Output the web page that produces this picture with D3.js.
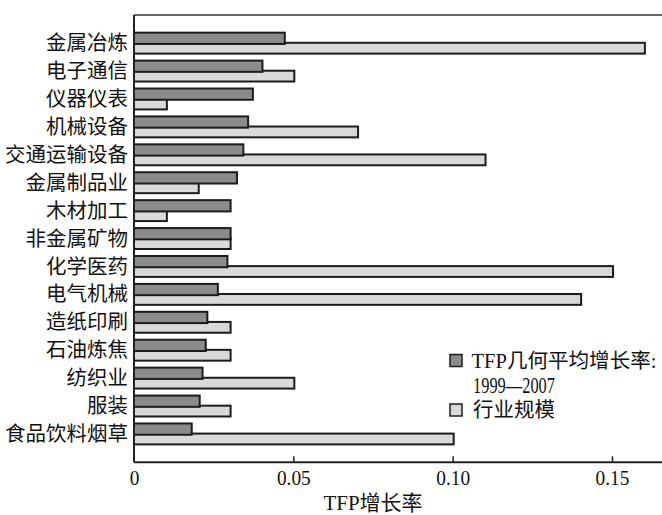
<!DOCTYPE html>
<html>
<head>
<meta charset="utf-8">
<script src="https://cdn.jsdelivr.net/npm/d3@7"></script>
<style>
  html, body { margin: 0; padding: 0; background: #fff; }
  svg { display: block; }
  text { font-family: "Liberation Serif", "Noto Sans CJK SC", serif; fill: #111; }
</style>
</head>
<body>
<svg id="chart" width="662" height="515"></svg>
<script>
const categories = ["金属冶炼","电子通信","仪器仪表","机械设备","交通运输设备","金属制品业","木材加工","非金属矿物","化学医药","电气机械","造纸印刷","石油炼焦","纺织业","服装","食品饮料烟草"];
const tfpGrowth = [0.047,0.040,0.037,0.0355,0.034,0.032,0.030,0.030,0.029,0.026,0.0227,0.0222,0.0212,0.0203,0.0178];
const industryScale = [0.16,0.05,0.01,0.07,0.11,0.02,0.01,0.03,0.15,0.14,0.03,0.03,0.05,0.03,0.10];
const xTicks = [0, 0.05, 0.10, 0.15];
const xTickLabels = ["0","0.05","0.10","0.15"];
const seriesNames = ["TFP几何平均增长率:", "1999—2007", "行业规模"];
const xTitle = "TFP增长率";

const svg = d3.select("#chart");
const mLeft = 134, mTop = 15, mBottom = 462.3, mRight = 662;

const x = d3.scaleLinear().domain([0, 0.15]).range([mLeft, 612]);
const y = d3.scaleBand().domain(categories).range([mTop, mBottom]).paddingInner(0.176).paddingOuter(0.6);
const bw = y.bandwidth();

const darkFill = "#8b8b8b", lightFill = "#d9d9d9", stroke = "#1c1c1c";

const rows = categories.map((c, i) => ({c, tfp: tfpGrowth[i], scale: industryScale[i]}));

const g = svg.append("g");
g.selectAll("rect.light").data(rows).join("rect")
  .attr("class", "light")
  .attr("x", x(0))
  .attr("y", d => y(d.c) + bw * 0.48)
  .attr("width", d => x(d.scale) - x(0) + 1)
  .attr("height", bw * 0.47)
  .attr("fill", lightFill).attr("stroke", stroke).attr("stroke-width", 2);
g.selectAll("rect.dark").data(rows).join("rect")
  .attr("class", "dark")
  .attr("x", x(0))
  .attr("y", d => y(d.c) + bw * 0.04)
  .attr("width", d => x(d.tfp) - x(0) + 1)
  .attr("height", bw * 0.49)
  .attr("fill", darkFill).attr("stroke", stroke).attr("stroke-width", 2);

svg.append("line").attr("x1", mLeft).attr("x2", mRight).attr("y1", mTop).attr("y2", mTop)
  .attr("stroke", "#333").attr("stroke-width", 1.5);
svg.append("line").attr("x1", mLeft).attr("x2", mLeft).attr("y1", mTop).attr("y2", mBottom)
  .attr("stroke", "#222").attr("stroke-width", 2);

const xAxis = d3.axisBottom(x).tickValues(xTicks).tickSize(-6).tickPadding(7.5)
  .tickFormat((d, i) => xTickLabels[i]);
const ax = svg.append("g").attr("transform", `translate(0,${mBottom})`).call(xAxis);
ax.select(".domain").remove();
ax.selectAll(".tick line").attr("stroke", "#222").attr("stroke-width", 1.5)
  .filter(d => d === 0).remove();
ax.selectAll(".tick text")
  .attr("font-size", 22).attr("font-family", "Liberation Serif").attr("fill", "#111")
  .attr("transform", "scale(0.88,1)");
svg.append("line").attr("x1", mLeft).attr("x2", mRight).attr("y1", mBottom).attr("y2", mBottom)
  .attr("stroke", "#222").attr("stroke-width", 2);

svg.append("g").selectAll("text").data(categories).join("text")
  .attr("x", 128)
  .attr("y", d => y(d) + bw / 2)
  .attr("text-anchor", "end")
  .attr("dominant-baseline", "central")
  .attr("font-size", 20.5)
  .text(d => d);

svg.append("text").attr("x", 373).attr("y", 502.5).attr("text-anchor", "middle")
  .attr("dominant-baseline", "central").attr("font-size", 21).text(xTitle);

const lg = svg.append("g");
lg.append("rect").attr("x", 450).attr("y", 354.5).attr("width", 12).attr("height", 12)
  .attr("fill", darkFill).attr("stroke", stroke).attr("stroke-width", 1.5);
lg.append("text").attr("x", 471.5).attr("y", 361).attr("dominant-baseline", "central")
  .attr("font-size", 20.5).attr("textLength", 185).attr("lengthAdjust", "spacingAndGlyphs")
  .text(seriesNames[0]);
lg.append("text").attr("x", 473).attr("y", 385.5).attr("dominant-baseline", "central")
  .attr("font-size", 22.5).attr("textLength", 82).attr("lengthAdjust", "spacingAndGlyphs")
  .text(seriesNames[1]);
lg.append("rect").attr("x", 450).attr("y", 404).attr("width", 12).attr("height", 12)
  .attr("fill", lightFill).attr("stroke", stroke).attr("stroke-width", 1.5);
lg.append("text").attr("x", 473).attr("y", 410).attr("dominant-baseline", "central")
  .attr("font-size", 20.5).text(seriesNames[2]);
</script>
</body>
</html>
